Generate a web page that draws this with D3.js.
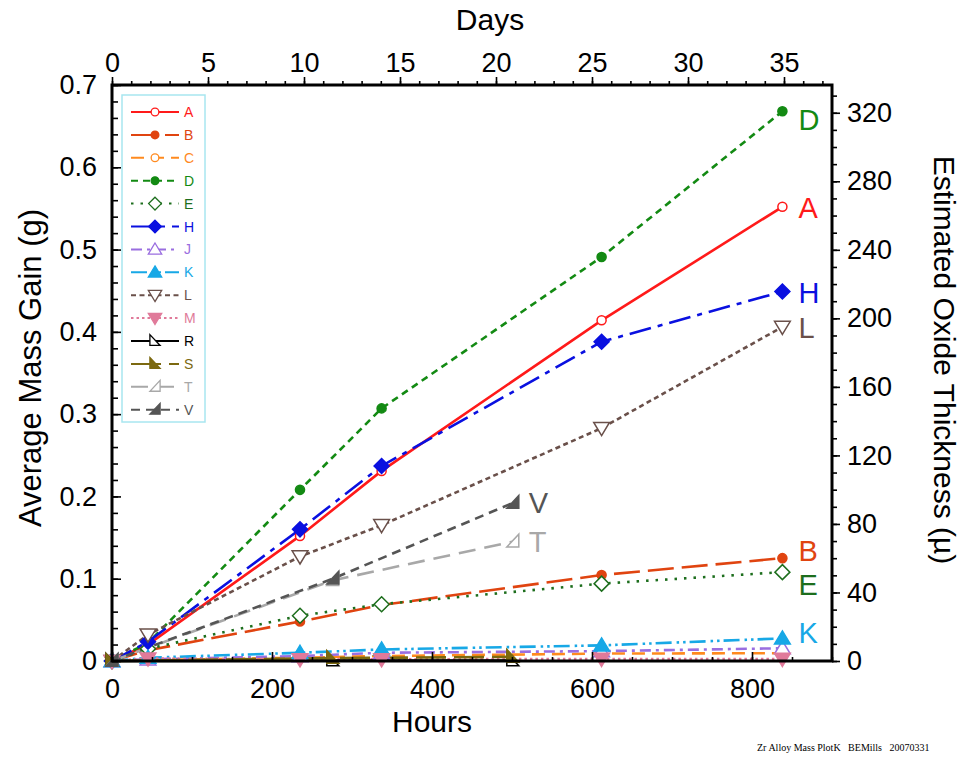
<!DOCTYPE html>
<html>
<head>
<meta charset="utf-8">
<script src="https://cdn.jsdelivr.net/npm/d3@7"></script>
<style>
  html, body { margin: 0; padding: 0; background: #fff; }
  svg { display: block; font-family: Arial, "Liberation Sans", Helvetica, sans-serif; }
</style>
</head>
<body>
<svg id="chart" width="963" height="757"></svg>
<script>
// Sampling times (hours)
const hoursLong = [0, 45, 235, 337, 612, 838];
const hoursShort = [0, 276, 501];

// Average mass gain (g) per alloy
const seriesNames = ["A", "B", "C", "D", "E", "H", "J", "K", "L", "M", "R", "S", "T", "V"];
const valuesA = [0, 0.020, 0.152, 0.231, 0.414, 0.552];
const valuesB = [0, 0.013, 0.048, 0.068, 0.1045, 0.125];
const valuesC = [0, 0.001, 0.004, 0.006, 0.009, 0.0095];
const valuesD = [0, 0.022, 0.208, 0.307, 0.491, 0.668];
const valuesE = [0, 0.015, 0.055, 0.069, 0.094, 0.108];
const valuesH = [0, 0.0235, 0.160, 0.237, 0.388, 0.449];
const valuesJ = [0, 0.002, 0.006, 0.010, 0.012, 0.0155];
const valuesK = [0, 0.004, 0.010, 0.014, 0.019, 0.0275];
const valuesL = [0, 0.032, 0.127, 0.165, 0.283, 0.406];
const valuesM = [0, 0.003, 0.002, 0.002, 0.0025, 0.0025];
const valuesR = [0, 0.0005, 0.0005];
const valuesS = [0, 0.0035, 0.005];
const valuesT = [0, 0.098, 0.145];
const valuesV = [0, 0.100, 0.192];

// Axis ticks
const hourTicks = [0, 200, 400, 600, 800];
const dayTicks = [0, 5, 10, 15, 20, 25, 30, 35];
const massTicks = [0, 0.1, 0.2, 0.3, 0.4, 0.5, 0.6, 0.7];
const oxideTicks = [0, 40, 80, 120, 160, 200, 240, 280, 320];

// Labels placed at the end of selected curves
const endLabels = ["D", "A", "H", "L", "V", "T", "B", "E", "K"];

const style = {
  A: { color: "#ff1a1a", dash: null, marker: "circle", fill: "open" },
  B: { color: "#e04410", dash: "26,8", marker: "circle", fill: "solid" },
  C: { color: "#ff8a1f", dash: "13,7", marker: "circle", fill: "open" },
  D: { color: "#138a13", dash: "7,5", marker: "circle", fill: "solid" },
  E: { color: "#1d6e1d", dash: "2.5,7", marker: "diamond", fill: "open" },
  H: { color: "#0a10e0", dash: "22,7,5,7", marker: "diamond", fill: "solid" },
  J: { color: "#9a6ee0", dash: "11,5,3,5", marker: "triUp", fill: "open" },
  K: { color: "#17a8e6", dash: "16,5,2.5,4,2.5,4", marker: "triUp", fill: "solid" },
  L: { color: "#6a504a", dash: "5,3.5", marker: "triDown", fill: "open" },
  M: { color: "#e07a9a", dash: "2.5,3", marker: "triDown", fill: "solid" },
  R: { color: "#000000", dash: null, marker: "rtriL", fill: "open" },
  S: { color: "#7c6910", dash: "30,8", marker: "rtriL", fill: "solid" },
  T: { color: "#a8a8a8", dash: "17,9", marker: "rtriR", fill: "open" },
  V: { color: "#555555", dash: "9,6", marker: "rtriR", fill: "solid" }
};

const valuesBy = { A: valuesA, B: valuesB, C: valuesC, D: valuesD, E: valuesE, H: valuesH,
  J: valuesJ, K: valuesK, L: valuesL, M: valuesM, R: valuesR, S: valuesS, T: valuesT, V: valuesV };
const shortSet = new Set(["R", "S", "T", "V"]);

const series = seriesNames.map(n => {
  const hrs = shortSet.has(n) ? hoursShort : hoursLong;
  return { name: n, points: valuesBy[n].map((v, i) => ({ h: hrs[i], v })), ...style[n] };
});

const svg = d3.select("#chart");
const plotL = 112, plotR = 832, plotT = 85, plotB = 661;

const x = d3.scaleLinear().domain([0, 900]).range([plotL, plotR]);
const xDays = d3.scaleLinear().domain([0, 37.5]).range([plotL, plotR]);
const y = d3.scaleLinear().domain([0, 0.7]).range([plotB, plotT]);
const yOx = d3.scaleLinear().domain([0, 336.2]).range([plotB, plotT]);

function markerPath(type, s) {
  switch (type) {
    case "circle": return d3.symbol(d3.symbolCircle, Math.PI * s * s * 0.42)();
    case "diamond": return `M0,${-s}L${s},0L0,${s}L${-s},0Z`;
    case "triUp": return `M0,${-s}L${s * 1.05},${s * 0.75}L${-s * 1.05},${s * 0.75}Z`;
    case "triDown": return `M0,${s}L${s * 1.05},${-s * 0.75}L${-s * 1.05},${-s * 0.75}Z`;
    case "rtriL": return `M${-s * 0.8},${-s}L${s * 0.8},${s * 0.7}L${-s * 0.8},${s * 0.7}Z`;
    case "rtriR": return `M${s * 0.8},${-s}L${s * 0.8},${s * 0.7}L${-s * 0.8},${s * 0.7}Z`;
  }
}
function markerSize(type) {
  return type === "circle" ? 7 : 7.5;
}

// ---- series lines ----
const line = d3.line().x(d => x(d.h)).y(d => y(d.v));
const gSeries = svg.append("g");
series.forEach(s => {
  gSeries.append("path")
    .attr("d", line(s.points))
    .attr("fill", "none")
    .attr("stroke", s.color)
    .attr("stroke-width", 2.6)
    .attr("stroke-dasharray", s.dash);
});
series.forEach(s => {
  gSeries.selectAll(null).data(s.points).join("path")
    .attr("transform", d => `translate(${x(d.h)},${y(d.v)})`)
    .attr("d", markerPath(s.marker, markerSize(s.marker)))
    .attr("fill", s.fill === "solid" ? s.color : "#fff")
    .attr("stroke", s.color)
    .attr("stroke-width", 1.5);
});

// ---- end labels, nudged where curves crowd together ----
const labelNudge = { D: 8, A: 1, H: 1, L: 1, V: 0, T: 0, B: -8, E: 12, K: -6 };
endLabels.forEach(n => {
  const s = series.find(d => d.name === n);
  const last = s.points[s.points.length - 1];
  svg.append("text")
    .attr("x", x(last.h) + 16)
    .attr("y", y(last.v) + labelNudge[n])
    .attr("dy", "0.36em")
    .attr("font-size", 29)
    .attr("fill", s.color)
    .text(n);
});

// ---- axes ----
const fs = 27;
function styleAxis(g) {
  g.select(".domain").remove();
  g.selectAll("line").attr("stroke", "#000").attr("stroke-width", 1.6);
  g.selectAll("text").attr("font-size", fs).attr("fill", "#000")
    .attr("font-family", "Arial, 'Liberation Sans', Helvetica, sans-serif");
}

// bottom: hours, ticks pointing inward
svg.append("g").attr("transform", `translate(0,${plotB})`)
  .call(d3.axisBottom(x).tickValues(d3.range(0, 901, 50)).tickSizeInner(-4).tickSizeOuter(0).tickFormat(""))
  .call(styleAxis);
svg.append("g").attr("transform", `translate(0,${plotB})`)
  .call(d3.axisBottom(x).tickValues(hourTicks).tickSizeInner(-9).tickSizeOuter(0).tickPadding(18).tickFormat(d3.format("d")))
  .call(styleAxis);

// top: days, ticks pointing outward
svg.append("g").attr("transform", `translate(0,${plotT})`)
  .call(d3.axisTop(xDays).tickValues(d3.range(0, 38, 1)).tickSizeInner(4).tickSizeOuter(0).tickFormat(""))
  .call(styleAxis);
svg.append("g").attr("transform", `translate(0,${plotT})`)
  .call(d3.axisTop(xDays).tickValues(dayTicks).tickSizeInner(8).tickSizeOuter(0).tickPadding(5).tickFormat(d3.format("d")))
  .call(styleAxis);

// left: mass gain, ticks pointing inward
svg.append("g").attr("transform", `translate(${plotL},0)`)
  .call(d3.axisLeft(y).tickValues(d3.range(0, 0.701, 0.02)).tickSizeInner(-6).tickSizeOuter(0).tickFormat(""))
  .call(styleAxis);
svg.append("g").attr("transform", `translate(${plotL},0)`)
  .call(d3.axisLeft(y).tickValues(massTicks).tickSizeInner(-9).tickSizeOuter(0).tickPadding(15)
    .tickFormat(d => d === 0 ? "0" : d3.format(".1f")(d)))
  .call(styleAxis);

// right: oxide thickness, ticks pointing outward
svg.append("g").attr("transform", `translate(${plotR},0)`)
  .call(d3.axisRight(yOx).tickValues(d3.range(0, 331, 10)).tickSizeInner(5).tickSizeOuter(0).tickFormat(""))
  .call(styleAxis);
svg.append("g").attr("transform", `translate(${plotR},0)`)
  .call(d3.axisRight(yOx).tickValues(oxideTicks).tickSizeInner(8).tickSizeOuter(0).tickPadding(7).tickFormat(d3.format("d")))
  .call(styleAxis);

// frame
svg.append("rect")
  .attr("x", plotL).attr("y", plotT)
  .attr("width", plotR - plotL).attr("height", plotB - plotT)
  .attr("fill", "none").attr("stroke", "#000").attr("stroke-width", 3);

// ---- axis titles ----
svg.append("text").attr("x", 432).attr("y", 732)
  .attr("text-anchor", "middle").attr("font-size", 30).text("Hours");
svg.append("text").attr("x", 490).attr("y", 30)
  .attr("text-anchor", "middle").attr("font-size", 30).text("Days");
svg.append("text").attr("transform", `translate(41,${(plotT + plotB) / 2 - 5}) rotate(-90)`)
  .attr("text-anchor", "middle").attr("font-size", 31).text("Average Mass Gain (g)");
svg.append("text").attr("transform", `translate(934,${(plotT + plotB) / 2 - 13}) rotate(90)`)
  .attr("text-anchor", "middle").attr("font-size", 30).text("Estimated Oxide Thickness (µ)");

// ---- legend ----
const lg = svg.append("g").attr("transform", "translate(122,95)");
lg.append("rect").attr("width", 83).attr("height", 327)
  .attr("fill", "#fff").attr("stroke", "#a8e6f0").attr("stroke-width", 1.5);
series.forEach((s, i) => {
  const yy = 17 + i * 22.9;
  lg.append("line").attr("x1", 9).attr("x2", 57).attr("y1", yy).attr("y2", yy)
    .attr("stroke", s.color).attr("stroke-width", 2).attr("stroke-dasharray", s.dash);
  lg.append("path").attr("transform", `translate(33,${yy})`)
    .attr("d", markerPath(s.marker, markerSize(s.marker) * 0.85))
    .attr("fill", s.fill === "solid" ? s.color : "#fff")
    .attr("stroke", s.color).attr("stroke-width", 1.3);
  lg.append("text").attr("x", 62).attr("y", yy).attr("dy", "0.36em")
    .attr("font-size", 14).attr("fill", s.color).text(s.name);
});

// ---- footer ----
svg.append("text").attr("x", 757).attr("y", 751)
  .attr("font-family", "'Liberation Serif', 'Times New Roman', serif")
  .attr("font-size", 10).attr("fill", "#000")
  .attr("xml:space", "preserve")
  .text("Zr Alloy Mass PlotK   BEMills   20070331");
</script>
</body>
</html>
